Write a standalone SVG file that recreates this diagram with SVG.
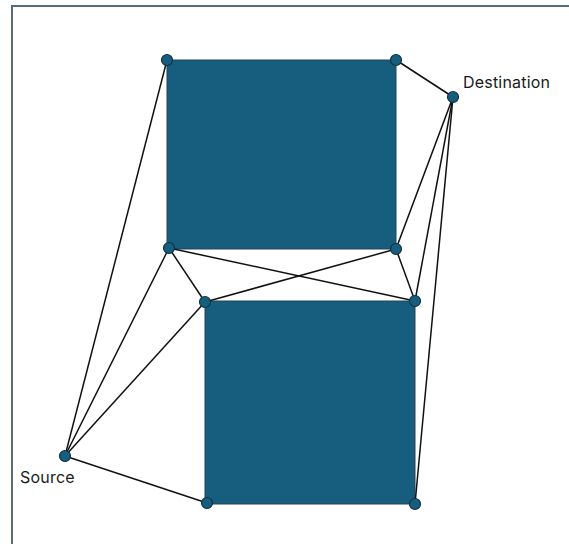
<svg xmlns="http://www.w3.org/2000/svg" width="569" height="544" viewBox="0 0 569 544">
  <style>
    .frame { fill: none; stroke: #566c7c; stroke-width: 2; }
    .block { fill: #175e7e; stroke: #244556; stroke-width: 1; }
    .edge { stroke: #111; stroke-width: 1.5; fill: none; }
    .pt { fill: #175e7e; stroke: #0e3346; stroke-width: 1.2; }
    .lbl { font-family: "Inter", "Liberation Sans", sans-serif; font-size: 16px; letter-spacing: 0.2px; fill: #1a1a1a; }
  </style>
  <rect x="0" y="0" width="569" height="544" fill="#ffffff"/>
  <path class="frame" d="M12,560 L12,6 L580,6"/>

  <!-- obstacles -->
  <g id="obstacle-top"><rect class="block" x="167" y="60" width="229" height="189"/></g>
  <g id="obstacle-bottom"><rect class="block" x="205" y="301" width="210" height="203"/></g>

  <!-- visibility edges -->
  <g id="edges">
    <line class="edge" x1="167" y1="60" x2="65" y2="456"/>
    <line class="edge" x1="396" y1="60" x2="453" y2="97"/>
    <line class="edge" x1="453" y1="97" x2="396" y2="249"/>
    <line class="edge" x1="453" y1="97" x2="415" y2="301"/>
    <line class="edge" x1="453" y1="97" x2="415" y2="504"/>
    <line class="edge" x1="169" y1="248" x2="65" y2="456"/>
    <line class="edge" x1="169" y1="248" x2="205" y2="302"/>
    <line class="edge" x1="169" y1="248" x2="415" y2="301"/>
    <line class="edge" x1="396" y1="249" x2="205" y2="302"/>
    <line class="edge" x1="396" y1="249" x2="415" y2="301"/>
    <line class="edge" x1="205" y1="302" x2="65" y2="456"/>
    <line class="edge" x1="65" y1="456" x2="207" y2="503"/>
  </g>

  <!-- vertices -->
  <g id="n-a"><circle class="pt" cx="167" cy="60" r="5.5"/></g>
  <g id="n-b"><circle class="pt" cx="396" cy="60" r="5.5"/></g>
  <g id="n-c"><circle class="pt" cx="169" cy="248" r="5.5"/></g>
  <g id="n-d"><circle class="pt" cx="396" cy="249" r="5.5"/></g>
  <g id="n-e"><circle class="pt" cx="205" cy="302" r="5.5"/></g>
  <g id="n-f"><circle class="pt" cx="415" cy="301" r="5.5"/></g>
  <g id="n-g"><circle class="pt" cx="207" cy="503" r="5.5"/></g>
  <g id="n-h"><circle class="pt" cx="415" cy="504" r="5.5"/></g>
  <g id="n-destination">
    <circle class="pt" cx="453" cy="97" r="5.5"/>
    <text class="lbl" x="463" y="88">Destination</text>
  </g>
  <g id="n-source">
    <circle class="pt" cx="65" cy="456" r="5.5"/>
    <text class="lbl" x="20" y="483">Source</text>
  </g>
</svg>
